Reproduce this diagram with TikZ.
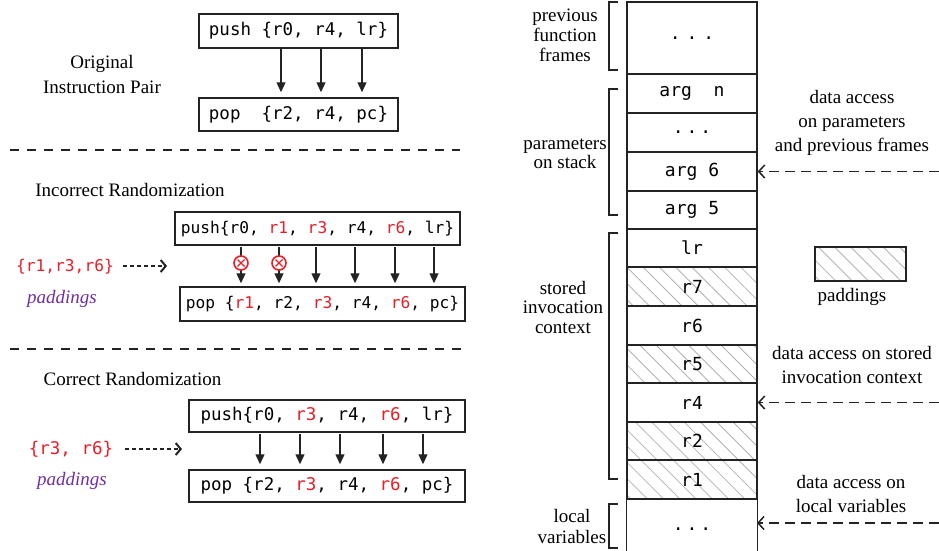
\documentclass[tikz,border=0pt]{standalone}
\usepackage{fontspec}
\setmainfont{Liberation Serif}
\newfontfamily\monof{DejaVu Sans Mono}
\usetikzlibrary{arrows.meta,patterns.meta}
\definecolor{pr}{RGB}{232,30,40}
\definecolor{pu}{RGB}{112,48,160}
\definecolor{ln}{RGB}{35,35,35}
\newcommand{\rd}[1]{\textcolor{pr}{#1}}
\begin{document}
\begin{tikzpicture}[x=1pt,y=-1pt,
  codebox/.style={draw=ln,line width=1.5pt,inner sep=0pt,font=\monof\fontsize{17.5}{20}\selectfont},
  codesm/.style={codebox,font=\monof\fontsize{16.2}{20}\selectfont},
  arr/.style={ln,line width=1.3pt,-{Triangle[length=10pt,width=9pt]}},
  sep/.style={ln,line width=1.5pt,dash pattern=on 9pt off 8pt},
  serif/.style={font=\fontsize{19}{25}\selectfont,align=center,inner sep=0pt},
  sidelab/.style={font=\fontsize{19}{20}\selectfont,align=center,inner sep=0pt},
  padlab/.style={font=\itshape\fontsize{19}{22}\selectfont,text=pu,inner sep=0pt},
  redset/.style={font=\monof\fontsize{16.2}{20}\selectfont,text=pr,inner sep=0pt},
  dotarr/.style={ln,line width=2pt,dash pattern=on 4pt off 3pt,-{Straight Barb[length=5pt,width=12pt]}},
  xmark/.style={circle,draw=pr,fill=white,line width=1.6pt,minimum size=14pt,inner sep=0pt,
    path picture={\draw[pr,line width=1.4pt]
      (path picture bounding box.center) ++(-3.5pt,-3.5pt) -- ++(7pt,7pt)
      (path picture bounding box.center) ++(-3.5pt,3.5pt) -- ++(7pt,-7pt);}},
  cell/.style={draw=ln,line width=1.4pt,minimum width=130pt,inner sep=0pt,font=\monof\fontsize{18}{20}\selectfont},
  hatch/.style={pattern={Lines[angle=-45,distance=11.5pt,line width=0.8pt]},pattern color=black!30},
  brk/.style={ln,line width=1.4pt},
  dasharr/.style={ln,line width=1.5pt,dash pattern=on 10pt off 6pt,-{Straight Barb[length=6pt,width=13pt]}},
  rlab/.style={font=\fontsize{19}{24}\selectfont,align=center,inner sep=0pt}
]
\useasboundingbox (0,0) rectangle (939,551);

% ---------- Original instruction pair ----------
\node[serif] (orig) at (102,74.5) {Original\\Instruction Pair};
\node[codebox,minimum width=199pt,minimum height=34pt] (p1) at (298.5,31) {push \{r0, r4, lr\}};
\node[codebox,minimum width=199pt,minimum height=33pt] (q1) at (298.5,114.5) {pop\ \ \{r2, r4, pc\}};
\foreach \x in {281,321,362}
  \draw[arr,shorten >=5pt] (p1.south -| \x,0) -- (q1.north -| \x,0);

\draw[sep] (10,150) -- (460,150);

% ---------- Incorrect randomization ----------
\node[serif] (inc) at (130,190) {Incorrect Randomization};
\node[codesm,minimum width=285pt,minimum height=33pt] (p2) at (317.5,228.5)
  {push\{r0, \rd{r1}, \rd{r3}, r4, \rd{r6}, lr\}};
\node[codesm,minimum width=285pt,minimum height=34pt] (q2) at (322.5,304)
  {pop \{\rd{r1}, r2, \rd{r3}, r4, \rd{r6}, pc\}};
\foreach \x in {241,279,316,355,395,434}
  \draw[arr,shorten >=3pt,shorten <=1pt] (p2.south -| \x,0) -- (q2.north -| \x,0);
\node[xmark] (x1) at (241,263) {};
\node[xmark] (x2) at (279,263) {};
\node[redset] (s2) at (65,267) {\{r1,r3,r6\}};
\coordinate (t2) at (167,266);
\draw[dotarr,shorten <=9pt] (s2.east |- t2) -- (t2);
\node[padlab] (pd2) at (62,299) {paddings};

\draw[sep] (10,349) -- (465,349);

% ---------- Correct randomization ----------
\node[serif] (cor) at (132.5,379) {Correct Randomization};
\node[codebox,minimum width=276pt,minimum height=32pt] (p3) at (327,416)
  {push\{r0, \rd{r3}, r4, \rd{r6}, lr\}};
\node[codebox,minimum width=276pt,minimum height=32pt] (q3) at (327,486)
  {pop \{r2, \rd{r3}, r4, \rd{r6}, pc\}};
\foreach \x in {260,300,340,383,423}
  \draw[arr,shorten >=5pt,shorten <=1pt] (p3.south -| \x,0) -- (q3.north -| \x,0);
\node[redset,font=\monof\fontsize{17.5}{20}\selectfont] (s3) at (71,449) {\{r3, r6\}};
\coordinate (t3) at (182,449);
\draw[dotarr,shorten <=12pt] (s3.east |- t3) -- (t3);
\node[padlab] (pd3) at (72,481) {paddings};

% ---------- Stack ----------
\node[cell,minimum height=72pt] (c0) at (692,38) {.\hspace{6pt}.\hspace{6pt}.};
\node[cell,minimum height=39pt] (c1) at (692,93.5) {arg\ \ n};
\node[cell,minimum height=39pt] (c2) at (692,132.5) {.\hspace{3pt}.\hspace{3pt}.};
\node[cell,minimum height=39pt] (c3) at (692,171.5) {arg 6};
\node[cell,minimum height=38pt] (c4) at (692,210) {arg 5};
\node[cell,minimum height=38pt] (c5) at (692,248) {lr};
\node[cell,hatch,minimum height=39pt] (c6) at (692,286.5) {r7};
\node[cell,minimum height=39pt] (c7) at (692,325.5) {r6};
\node[cell,hatch,minimum height=38pt] (c8) at (692,364) {r5};
\node[cell,minimum height=39pt] (c9) at (692,402.5) {r4};
\node[cell,hatch,minimum height=38pt] (c10) at (692,441) {r2};
\node[cell,hatch,minimum height=39pt] (c11) at (692,479.5) {r1};
\node[font=\monof\fontsize{18}{20}\selectfont,inner sep=0pt] (c12) at (692,529) {.\hspace{3pt}.\hspace{3pt}.};
\draw[brk] (c11.south west) -- (c11.south west |- 0,551);
\draw[brk] (c11.south east) -- (c11.south east |- 0,551);

% brackets and side labels
\draw[brk] (618,2) -- (609,2) -- (609,70) -- (618,70);
\node[sidelab] (l0) at (565,35) {previous\\function\\frames};
\draw[brk] (618,89) -- (609,89) -- (609,215) -- (618,215);
\node[sidelab,font=\fontsize{19}{19}\selectfont] (l1) at (565,154) {parameters\\on stack};
\draw[brk] (618,233) -- (609,233) -- (609,479) -- (618,479);
\node[sidelab,font=\fontsize{19}{19.5}\selectfont] (l2) at (563,307) {stored\\invocation\\context};
\draw[brk] (618,504) -- (609,504) -- (609,548) -- (618,548);
\node[sidelab,font=\fontsize{19}{21}\selectfont] (l3) at (572,526.5) {local\\variables};

% right side
\coordinate (edge) at (939,0);
\node[rlab] (d1) at (852,122.5) {data access\\on parameters\\and previous frames};
\draw[dasharr] (edge |- c3.east) -- (c3.east);
\node[draw=ln,line width=1.4pt,hatch,minimum width=91pt,minimum height=34pt,inner sep=0pt] (leg) at (860.5,264) {};
\node[rlab] (legt) at (852,297) {paddings};
\node[rlab] (d2) at (852,365) {data access on stored\\invocation context};
\draw[dasharr] (edge |- c9.east) -- (c9.east);
\node[rlab] (d3) at (851,494) {data access on\\local variables};
\coordinate (lvend) at (757,523);
\draw[dasharr] (edge |- lvend) -- (lvend);
\end{tikzpicture}
\end{document}
